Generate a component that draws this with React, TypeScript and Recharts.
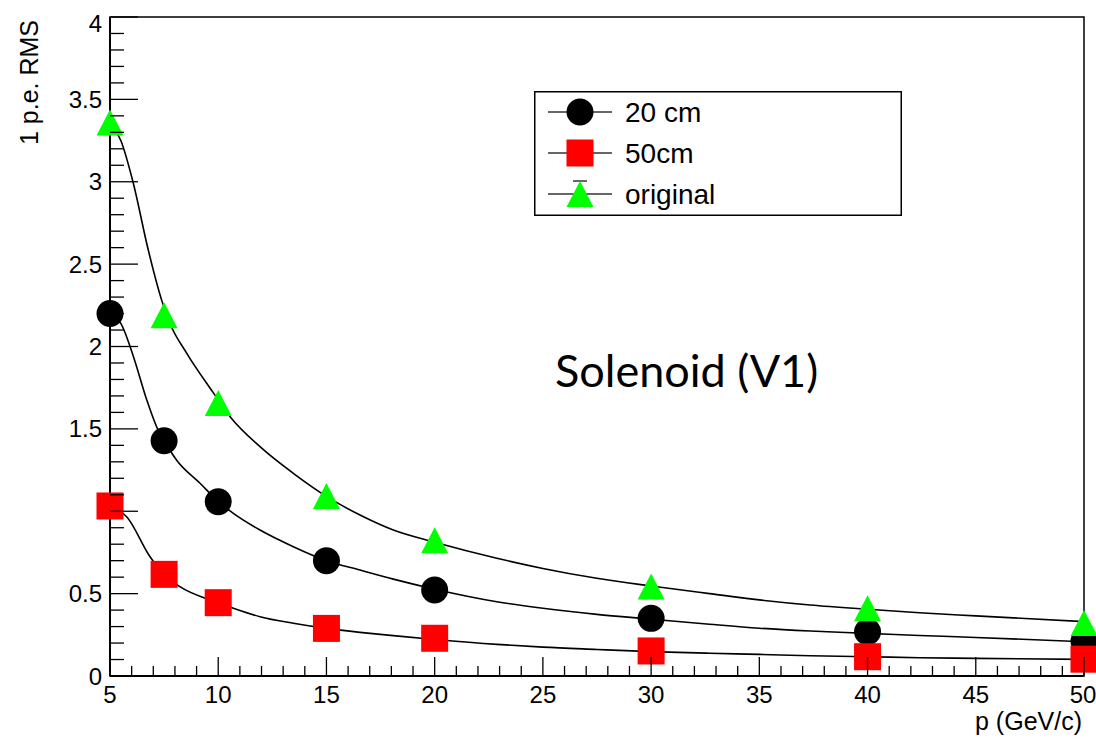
import React from "react";
import {
  ComposedChart,
  Line,
  Scatter,
  XAxis,
  YAxis,
  ReferenceArea,
  Legend,
} from "recharts";

// measured points (p in GeV/c, 1 p.e. RMS)
const momenta = [5, 7.5, 10, 15, 20, 30, 40, 50];
const rms20cm = [2.2, 1.428, 1.058, 0.7, 0.522, 0.35, 0.269, 0.21];
const rms50cm = [1.032, 0.617, 0.445, 0.289, 0.229, 0.152, 0.117, 0.102];
const rmsOriginal = [3.36, 2.19, 1.657, 1.093, 0.824, 0.544, 0.411, 0.322];

// smooth curves
const curveOriginal = [
  { p: 5, v: 3.36 }, { p: 5.5, v: 3.25 }, { p: 6.06, v: 3.0 }, { p: 6.76, v: 2.59 },
  { p: 7.39, v: 2.28 }, { p: 7.77, v: 2.14 }, { p: 8.54, v: 1.96 }, { p: 9.77, v: 1.72 },
  { p: 10.55, v: 1.574 }, { p: 11.93, v: 1.392 }, { p: 13.47, v: 1.23 }, { p: 15, v: 1.09 },
  { p: 16.55, v: 0.977 }, { p: 18.09, v: 0.886 }, { p: 20, v: 0.812 }, { p: 22.87, v: 0.715 },
  { p: 25, v: 0.653 }, { p: 27.49, v: 0.593 }, { p: 30, v: 0.546 }, { p: 32.7, v: 0.5 },
  { p: 35, v: 0.462 }, { p: 37.35, v: 0.431 }, { p: 40, v: 0.405 }, { p: 42.4, v: 0.384 },
  { p: 45, v: 0.365 }, { p: 50, v: 0.33 },
];
const curve20cm = [
  { p: 5, v: 2.2 }, { p: 5.5, v: 2.14 }, { p: 6.08, v: 1.94 }, { p: 6.7, v: 1.675 },
  { p: 7.23, v: 1.49 }, { p: 7.5, v: 1.428 }, { p: 8.08, v: 1.31 }, { p: 9.16, v: 1.17 },
  { p: 10, v: 1.06 }, { p: 10.7, v: 0.987 }, { p: 11.93, v: 0.886 }, { p: 13.47, v: 0.785 },
  { p: 15, v: 0.7 }, { p: 16.55, v: 0.643 }, { p: 18.09, v: 0.588 }, { p: 20, v: 0.527 },
  { p: 22.87, v: 0.451 }, { p: 25, v: 0.411 }, { p: 27.49, v: 0.374 }, { p: 30, v: 0.345 },
  { p: 32.7, v: 0.314 }, { p: 35, v: 0.29 }, { p: 37.35, v: 0.273 }, { p: 40, v: 0.259 },
  { p: 42.4, v: 0.246 }, { p: 45, v: 0.234 }, { p: 50, v: 0.208 },
];
const curve50cm = [
  { p: 5, v: 1.03 }, { p: 5.77, v: 0.967 }, { p: 6.85, v: 0.724 }, { p: 7.5, v: 0.617 },
  { p: 8.23, v: 0.542 }, { p: 10, v: 0.445 }, { p: 10.7, v: 0.411 }, { p: 11.93, v: 0.36 },
  { p: 13.47, v: 0.32 }, { p: 15, v: 0.289 }, { p: 16.55, v: 0.265 }, { p: 18.09, v: 0.245 },
  { p: 20, v: 0.222 }, { p: 22.87, v: 0.192 }, { p: 25, v: 0.175 }, { p: 27.49, v: 0.161 },
  { p: 30, v: 0.148 }, { p: 32.7, v: 0.138 }, { p: 35, v: 0.131 }, { p: 37.35, v: 0.123 },
  { p: 40, v: 0.117 }, { p: 42.4, v: 0.111 }, { p: 45, v: 0.107 }, { p: 50, v: 0.101 },
];

const xTicks = Array.from({ length: 46 }, (_, i) => 5 + i);
const yTicks = Array.from({ length: 41 }, (_, i) => i / 10);
const hiddenYLabels = ["1"]; // covered by the first red square in the original

const legendItems = [
  { label: "20 cm", marker: "circle", color: "#000000" },
  { label: "50cm", marker: "square", color: "#ff0000" },
  { label: "original", marker: "triangle", color: "#00ff00" },
];

const toPoints = (vals: number[]) => momenta.map((p, i) => ({ p, v: vals[i] }));

const FONT = "'Liberation Sans', Arial, Helvetica, sans-serif";
const M = 13.5; // marker half size

function Marker({ kind, cx, cy, color }: { kind: string; cx: number; cy: number; color: string }) {
  if (kind === "circle") return <circle cx={cx} cy={cy} r={M} fill={color} />;
  if (kind === "square") return <rect x={cx - M} y={cy - M} width={2 * M} height={2 * M} fill={color} />;
  return <polygon points={`${cx},${cy - 13} ${cx - M},${cy + 13} ${cx + M},${cy + 13}`} fill={color} />;
}

const XTick = (props: any) => {
  const { x, y, payload } = props;
  const v = payload.value as number;
  const major = v % 5 === 0;
  return (
    <g>
      <line x1={x} x2={x} y1={y} y2={y - (major ? 19 : 10)} stroke="#000" strokeWidth={1.3} />
      {major && (
        <text x={v === 50 ? x - 1 : x} y={y + 27} textAnchor="middle" fontFamily={FONT} fontSize={24} fill="#000">
          {v}
        </text>
      )}
    </g>
  );
};

const YTick = (props: any) => {
  const { x, y, payload } = props;
  const v = payload.value as number;
  const major = Math.abs(v * 2 - Math.round(v * 2)) < 1e-6;
  const label = String(Math.round(v * 10) / 10);
  const showLabel = major && !hiddenYLabels.includes(label);
  return (
    <g>
      <line x1={x} x2={x + (major ? 28 : 14)} y1={y} y2={y} stroke="#000" strokeWidth={1.3} />
      {showLabel && (
        <text x={x - 8} y={y + 8.5 + (v === 4 ? 6 : 0)} textAnchor="end" fontFamily={FONT} fontSize={24} fill="#000">
          {label}
        </text>
      )}
    </g>
  );
};

const LegendBox = () => (
  <svg width={368} height={125} style={{ display: "block" }}>
    <rect x={0.75} y={0.75} width={366.5} height={123.5} fill="#fff" stroke="#000" strokeWidth={1.5} />
    {legendItems.map((it, i) => {
      const cy = 21 + i * 41;
      return (
        <g key={it.label}>
          <line x1={14} x2={78} y1={cy} y2={cy} stroke="#333" strokeWidth={1.5} />
          {it.marker === "triangle" && (
            <line x1={39} x2={53} y1={cy - 13} y2={cy - 13} stroke="#333" strokeWidth={1.5} />
          )}
          <Marker kind={it.marker} cx={46} cy={cy} color={it.color} />
          <text x={91} y={cy + 10} fontFamily={FONT} fontSize={28} fill="#000">
            {it.label}
          </text>
        </g>
      );
    })}
  </svg>
);

export default function App() {
  return (
    <div style={{ position: "relative", width: 1096, height: 740, background: "#fff" }}>
      <style>{"body{margin:0;background:#fff}"}</style>
      <ComposedChart width={1096} height={740} margin={{ top: 17, right: 12, bottom: 24, left: 50 }}>
        <XAxis
          type="number"
          dataKey="p"
          domain={[5, 50]}
          ticks={xTicks}
          interval={0}
          tickSize={0}
          tickMargin={0}
          tick={<XTick />}
          axisLine={{ stroke: "#000", strokeWidth: 2 }}
          tickLine={false}
          height={40}
        />
        <YAxis
          type="number"
          domain={[0, 4]}
          ticks={yTicks}
          interval={0}
          tickSize={0}
          tickMargin={0}
          tick={<YTick />}
          axisLine={{ stroke: "#000", strokeWidth: 2 }}
          tickLine={false}
          width={60}
        />
        <ReferenceArea x1={5} x2={50} y1={0} y2={4} fill="none" fillOpacity={0} stroke="#000" strokeWidth={1.5} />
        <Line data={curveOriginal} dataKey="v" type="monotone" stroke="#000" strokeWidth={1.6} dot={false} isAnimationActive={false} />
        <Line data={curve20cm} dataKey="v" type="monotone" stroke="#000" strokeWidth={1.6} dot={false} isAnimationActive={false} />
        <Line data={curve50cm} dataKey="v" type="monotone" stroke="#000" strokeWidth={1.6} dot={false} isAnimationActive={false} />
        <Scatter
          data={toPoints(rms20cm)}
          dataKey="v"
          isAnimationActive={false}
          shape={(pr: any) => <Marker kind="circle" cx={pr.cx} cy={pr.cy} color="#000000" />}
        />
        <Scatter
          data={toPoints(rms50cm)}
          dataKey="v"
          isAnimationActive={false}
          shape={(pr: any) => <Marker kind="square" cx={pr.cx} cy={pr.cy} color="#ff0000" />}
        />
        <Scatter
          data={toPoints(rmsOriginal)}
          dataKey="v"
          isAnimationActive={false}
          shape={(pr: any) => <Marker kind="triangle" cx={pr.cx} cy={pr.cy} color="#00ff00" />}
        />
        <Legend
          layout="horizontal"
          verticalAlign="middle"
          align="center"
          content={() => <LegendBox />}
          wrapperStyle={{ position: "absolute", left: 534, top: 91, width: 368, height: 125 }}
        />
      </ComposedChart>
      <svg
        width={1096}
        height={740}
        style={{ position: "absolute", left: 0, top: 0, pointerEvents: "none" }}
      >
        <text transform="translate(37.5,20) rotate(-90)" textAnchor="end" fontFamily={FONT} fontSize={25} fill="#000">
          1 p.e. RMS
        </text>
        <text x={1082} y={730} textAnchor="end" fontFamily={FONT} fontSize={25} fill="#000">
          p (GeV/c)
        </text>
        <text x={555} y={387} fontFamily="Lato, 'Open Sans', sans-serif" fontSize={45} fill="#000">
          Solenoid (V1)
        </text>
      </svg>
    </div>
  );
}
